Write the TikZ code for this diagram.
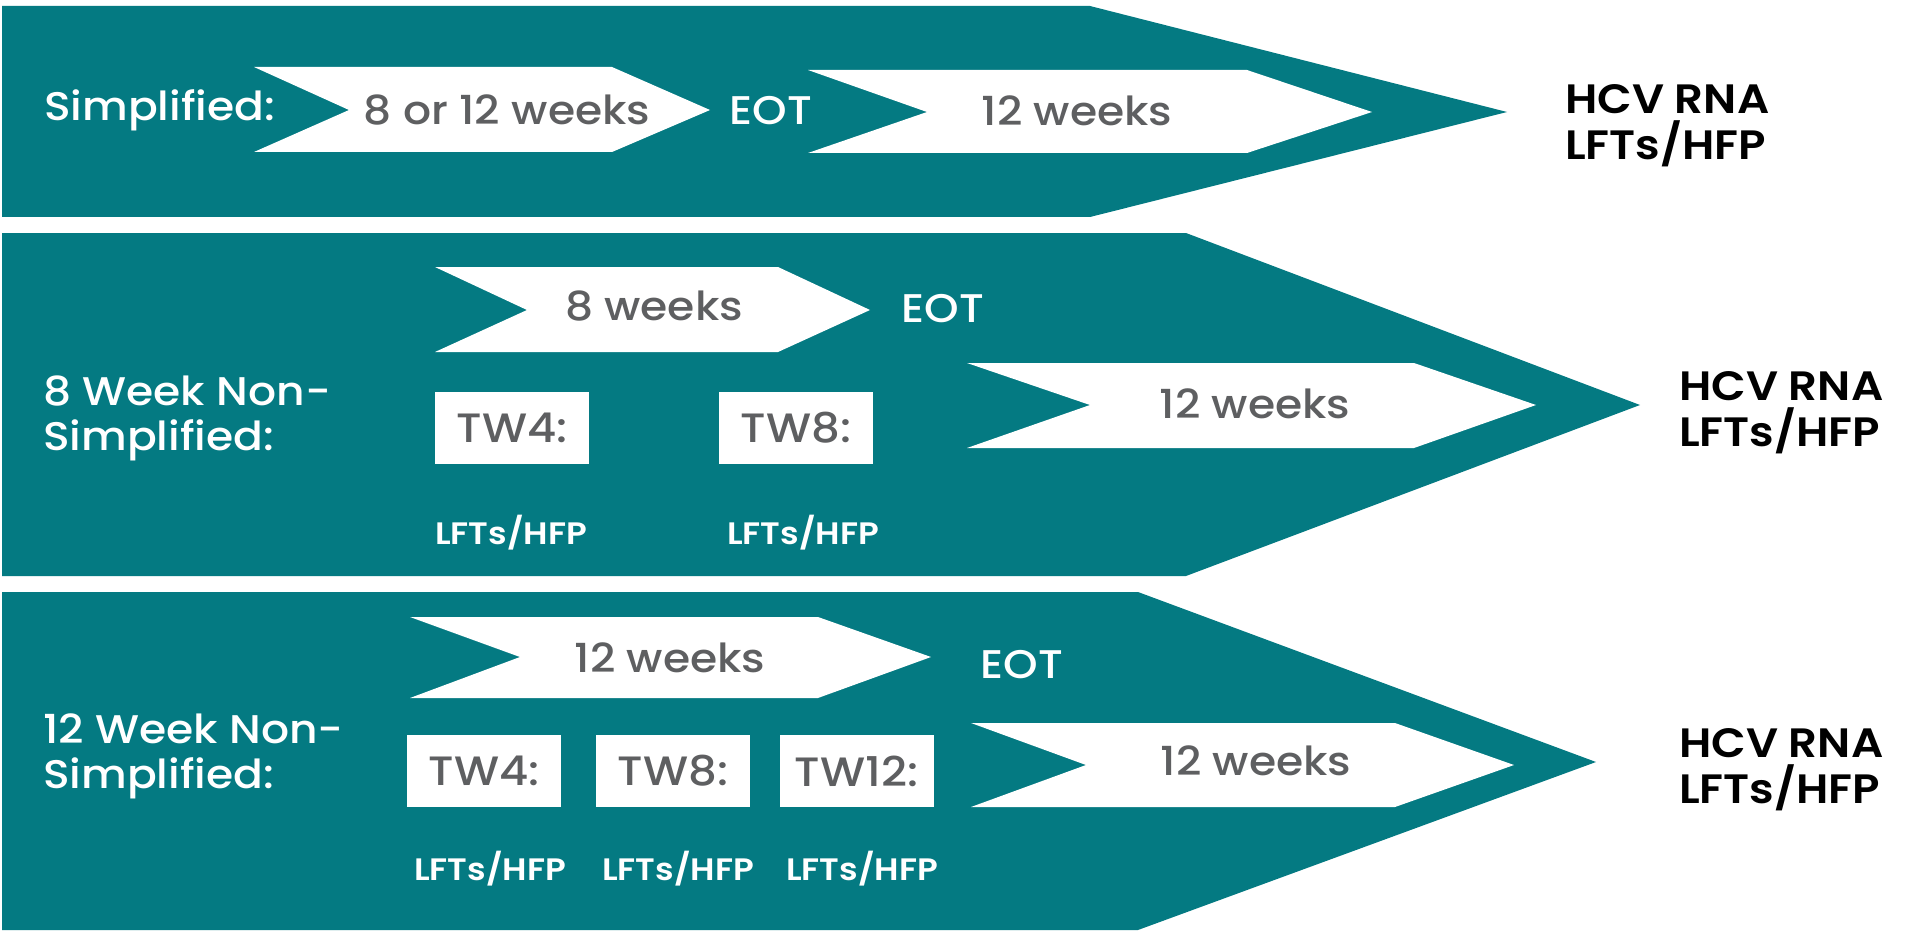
\documentclass[tikz,border=0pt]{standalone}
\usepackage{fontspec}
\setmainfont{Poppins}[UprightFont={* Medium}, BoldFont={* SemiBold}, FakeStretch=1.1]
\definecolor{bandteal}{HTML}{047A82}
\definecolor{txtgray}{HTML}{5E5F61}
\tikzset{
  band/.style={fill=bandteal},
  chev/.style={fill=white},
  tbox/.style={fill=white, minimum width=154pt, minimum height=72pt, inner sep=0pt,
               font=\fontsize{41}{44}\selectfont, text=txtgray},
  rowlbl/.style={text=white, font=\fontsize{40}{45}\selectfont, inner sep=0pt, align=left, anchor=base west},
  chevtxt/.style={text=txtgray, font=\fontsize{40}{45}\selectfont, inner sep=0pt, anchor=base},
  eot/.style={text=white, font=\fontsize{40}{45}\selectfont, inner sep=0pt, anchor=base},
  small/.style={text=white, font=\bfseries\fontsize{31}{34}\selectfont, inner sep=0pt, anchor=base},
  result/.style={text=black, font=\bfseries\fontsize{41}{46}\selectfont, inner sep=0pt, align=left, anchor=base west}
}
\newcommand{\mychev}[7]{\fill[chev] (#1,#5) -- (#3,#5) -- (#4,#7) -- (#3,#6) -- (#1,#6) -- (#2,#7) -- cycle;}
\begin{document}
\begin{tikzpicture}[x=1pt,y=-1pt]
\useasboundingbox (0,0) rectangle (1908,936);
% bands
\fill[band] (2,6) -- (1090,6) -- (1507,112) -- (1090,217) -- (2,217) -- cycle;
\fill[band] (2,233) -- (1186,233) -- (1640,405) -- (1186,576) -- (2,576) -- cycle;
\fill[band] (2,592) -- (1138,592) -- (1596,762) -- (1138,930) -- (2,930) -- cycle;
% chevrons
\mychev{254}{349}{612}{710}{67}{152}{110}
\mychev{808}{927}{1247}{1372}{70}{153}{112}
\mychev{435}{527}{778}{870}{267}{352}{310}
\mychev{967}{1090}{1414}{1536}{363}{448}{405}
\mychev{410}{520}{818}{931}{617}{698}{657}
\mychev{971}{1086}{1395}{1514}{723}{807}{765}
% row 1
\node[rowlbl] (l1) at (44,121) {Simplified:};
\node[chevtxt] (c1) at (507,125) {8 or 12 weeks};
\node[eot] (e1) at (771,125) {EOT};
\node[chevtxt] (c2) at (1077,126) {12 weeks};
\node[result] (r1) at (1565,160) {HCV RNA\\LFTs/HFP};
% row 2
\node[rowlbl] (l2) at (43,450) {8 Week Non-\\Simplified:};
\node[chevtxt] (c3) at (654,320) {8 weeks};
\node[eot] (e2) at (943,322) {EOT};
\node[tbox] (b21) at (512,428) {TW4:};
\node[tbox] (b22) at (796,428) {TW8:};
\node[small] (s21) at (511,544) {LFTs/HFP};
\node[small] (s22) at (803,544) {LFTs/HFP};
\node[chevtxt] (c4) at (1255,418) {12 weeks};
\node[result] (r2) at (1679,446) {HCV RNA\\LFTs/HFP};
% row 3
\node[rowlbl] (l3) at (43,788) {12 Week Non-\\Simplified:};
\node[chevtxt] (c5) at (670,672) {12 weeks};
\node[eot] (e3) at (1022,678) {EOT};
\node[tbox] (b31) at (484,771) {TW4:};
\node[tbox] (b32) at (673,771) {TW8:};
\node[tbox] (b33) at (856.5,771) {TW12:};
\node[small] (s31) at (490,880) {LFTs/HFP};
\node[small] (s32) at (678,880) {LFTs/HFP};
\node[small] (s33) at (862,880) {LFTs/HFP};
\node[chevtxt] (c6) at (1256,775) {12 weeks};
\node[result] (r3) at (1679,803) {HCV RNA\\LFTs/HFP};
\end{tikzpicture}
\end{document}
